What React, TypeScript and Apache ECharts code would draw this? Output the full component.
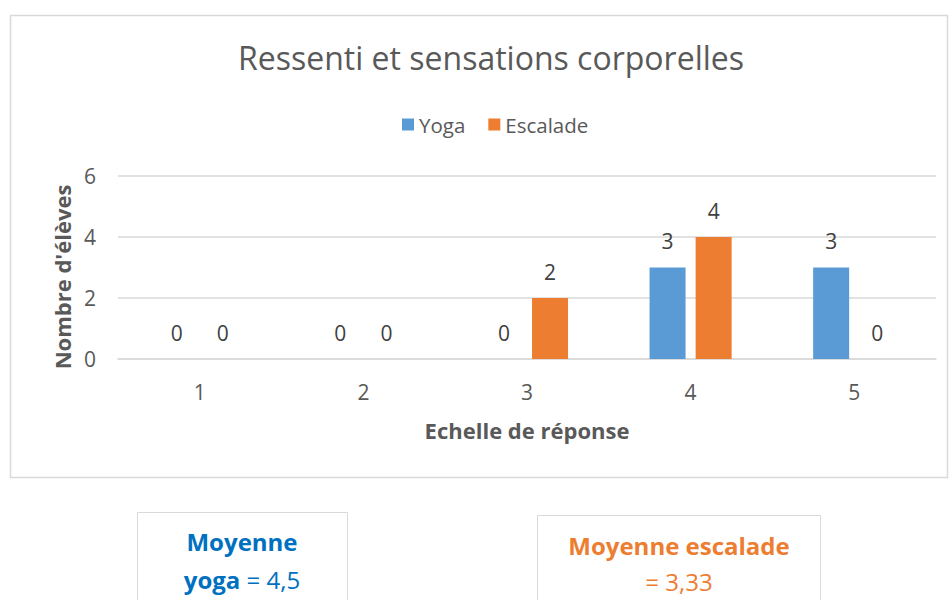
import React, { useEffect, useRef } from "react";
import * as echarts from "echarts";

const categories = ["1", "2", "3", "4", "5"];
const yogaValues = [0, 0, 0, 3, 3];
const escaladeValues = [0, 0, 2, 4, 0];
const seriesNames = ["Yoga", "Escalade"];
const yTicks = { min: 0, max: 6, interval: 2 };
const titleText = "Ressenti et sensations corporelles";
const xAxisName = "Echelle de réponse";
const yAxisName = "Nombre d'élèves";
const yogaMeanLabel = ["Moyenne", "yoga", "= 4,5"];
const escaladeMeanLabel = ["Moyenne escalade", "= 3,33"];

const FONT = "'Open Sans', 'Noto Sans', sans-serif";
const BLUE = "#5B9BD5";
const ORANGE = "#ED7D31";
const TEXT = "#595959";
const GRID = "#D9D9D9";

export default function App() {
  const ref = useRef<HTMLDivElement>(null);
  useEffect(() => {
    if (!ref.current) return;
    const chart = echarts.init(ref.current, undefined, { renderer: "svg" });
    const label = {
      show: true,
      position: "top" as const,
      distance: 16,
      color: "#404040",
      fontSize: 21,
      fontFamily: FONT,
    };
    chart.setOption({
      animation: false,
      backgroundColor: "#ffffff",
      textStyle: { fontFamily: FONT },
      title: {
        text: titleText,
        left: 486,
        textAlign: "center",
        top: 36,
        textStyle: { fontSize: 32, fontWeight: "normal", color: TEXT, fontFamily: FONT },
      },
      legend: {
        data: seriesNames,
        top: 109,
        left: 397,
        icon: "rect",
        itemWidth: 12,
        itemHeight: 12,
        itemGap: 23,
        itemStyle: { borderWidth: 0 },
        textStyle: { fontSize: 20.5, color: TEXT, fontFamily: FONT },
      },
      grid: { left: 118, right: 16, top: 176, bottom: 241 },
      xAxis: {
        type: "category",
        data: categories,
        name: xAxisName,
        nameLocation: "middle",
        nameGap: 60,
        nameTextStyle: { fontSize: 22, fontWeight: "bold", color: TEXT, fontFamily: FONT },
        axisLine: { lineStyle: { color: GRID, width: 1.5 } },
        axisTick: { show: false },
        axisLabel: { fontSize: 21, color: TEXT, margin: 22, fontFamily: FONT },
      },
      yAxis: {
        type: "value",
        min: yTicks.min,
        max: yTicks.max,
        interval: yTicks.interval,
        axisLine: { show: false },
        axisTick: { show: false },
        axisLabel: { fontSize: 21, color: TEXT, margin: 22, fontFamily: FONT },
        splitLine: { lineStyle: { color: GRID, width: 1.5 } },
      },
      series: [
        {
          name: seriesNames[0],
          type: "bar",
          data: yogaValues,
          barWidth: 36,
          barGap: "28%",
          itemStyle: { color: BLUE },
          label,
        },
        {
          name: seriesNames[1],
          type: "bar",
          data: escaladeValues,
          barWidth: 36,
          barGap: "28%",
          itemStyle: { color: ORANGE },
          label,
        },
      ],
      graphic: [
        {
          type: "rect",
          shape: { x: 10.5, y: 15.5, width: 937, height: 462 },
          style: { fill: "none", stroke: GRID, lineWidth: 1.5 },
          silent: true,
        },
        {
          type: "text",
          x: 62,
          y: 277,
          rotation: Math.PI / 2,
          style: {
            text: yAxisName,
            align: "center",
            verticalAlign: "middle",
            fill: TEXT,
            fontSize: 22,
            fontWeight: "bold",
            fontFamily: FONT,
          },
        },
        {
          type: "rect",
          shape: { x: 137.5, y: 512.5, width: 210, height: 100 },
          style: { fill: "#fff", stroke: GRID, lineWidth: 1 },
          silent: true,
        },
        {
          type: "text",
          x: 242,
          y: 541,
          style: {
            text: yogaMeanLabel[0],
            align: "center",
            verticalAlign: "middle",
            fill: "#0070C0",
            fontSize: 24,
            fontWeight: "bold",
            fontFamily: FONT,
          },
        },
        {
          type: "text",
          x: 242,
          y: 579,
          style: {
            text: "{b|" + yogaMeanLabel[1] + "}{r| " + yogaMeanLabel[2] + "}",
            align: "center",
            verticalAlign: "middle",
            rich: {
              b: { fill: "#0070C0", fontSize: 24, fontWeight: "bold", fontFamily: FONT },
              r: { fill: "#0070C0", fontSize: 24, fontFamily: FONT },
            },
          },
        },
        {
          type: "rect",
          shape: { x: 537.5, y: 515.5, width: 283, height: 100 },
          style: { fill: "#fff", stroke: GRID, lineWidth: 1 },
          silent: true,
        },
        {
          type: "text",
          x: 679,
          y: 545,
          style: {
            text: escaladeMeanLabel[0],
            align: "center",
            verticalAlign: "middle",
            fill: ORANGE,
            fontSize: 24,
            fontWeight: "bold",
            fontFamily: FONT,
          },
        },
        {
          type: "text",
          x: 679,
          y: 581,
          style: {
            text: escaladeMeanLabel[1],
            align: "center",
            verticalAlign: "middle",
            fill: ORANGE,
            fontSize: 24,
            fontFamily: FONT,
          },
        },
      ],
    });
    return () => chart.dispose();
  }, []);
  return (
    <div
      ref={ref}
      style={{ position: "fixed", left: 0, top: 0, width: 952, height: 600 }}
    />
  );
}
